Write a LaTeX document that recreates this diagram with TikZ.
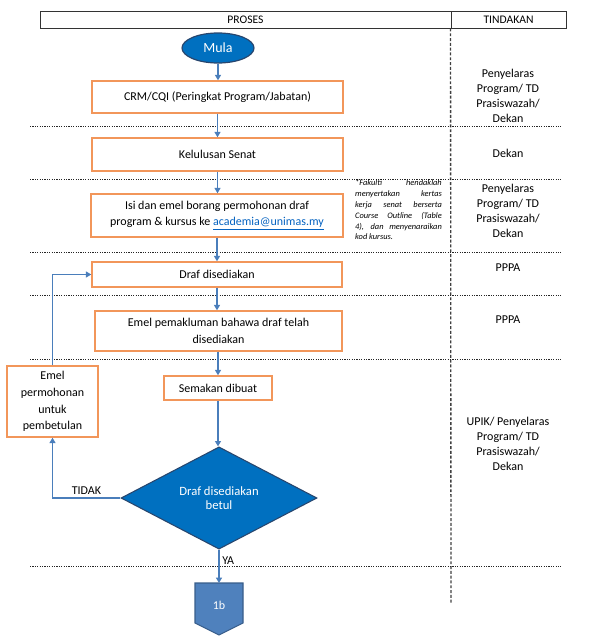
\documentclass[tikz,border=0pt]{standalone}
\usepackage{fontspec}
\setmainfont{Carlito}
\usetikzlibrary{shapes.geometric,arrows.meta,calc}
\definecolor{arrowblue}{RGB}{74,126,187}
\definecolor{boxorange}{RGB}{242,150,90}
\definecolor{darkfill}{RGB}{0,112,192}
\definecolor{darkedge}{RGB}{40,70,110}
\definecolor{connfill}{RGB}{79,129,189}
\definecolor{connedge}{RGB}{56,93,138}
\definecolor{linkblue}{RGB}{5,99,193}
\begin{document}
\begin{tikzpicture}[x=0.75pt,y=-0.75pt,
  proc/.style={draw=boxorange, line width=1.1pt, fill=white, align=center, inner sep=0pt, font=\fontsize{9}{12.5}\selectfont},
  flow/.style={draw=arrowblue, line width=0.9pt, -{Triangle[width=4.5pt,length=4pt]}},
  sepline/.style={dash pattern=on 0.9pt off 0.9pt, line width=0.7pt, black!85},
  act/.style={align=center, inner sep=0pt, font=\fontsize{9}{11.3}\selectfont},
  hdr/.style={draw=black!80, line width=0.7pt, inner sep=0pt, font=\fontsize{8.7}{10}\selectfont},
  lbl/.style={font=\fontsize{9}{11}\selectfont, inner sep=2pt},
]
\useasboundingbox (0,0) rectangle (602,643);

% header
\node[hdr, minimum width=411*0.75pt, minimum height=17*0.75pt] (proses) at (245.5,19.5) {PROSES};
\node[hdr, minimum width=115*0.75pt, minimum height=17*0.75pt] (tind) at (508.5,19.5) {TINDAKAN};

% column divider
\coordinate (dvend) at (451,603);
\draw[black!75, line width=1pt, dash pattern=on 2.2pt off 1.4pt] (tind.south west) -- (dvend);

% row separators
\foreach \yy in {126,179,252,295,359,566} {
  \draw[sepline] (30,\yy) -- (561,\yy);
}

% start
\node[ellipse, draw=darkedge, fill=darkfill, line width=0.9pt, minimum width=72*0.75pt, minimum height=30*0.75pt, inner sep=0pt, text=white, font=\fontsize{10.5}{12}\selectfont] (mula) at (218,48) {Mula};

% process boxes
\node[proc, minimum width=251*0.75pt, minimum height=32*0.75pt] (crm) at (217.5,97) {CRM/CQI (Peringkat Program/Jabatan)};
\node[proc, minimum width=251*0.75pt, minimum height=33*0.75pt] (kel) at (217.5,154.5) {Kelulusan Senat};
\node[proc, minimum width=252*0.75pt, minimum height=43*0.75pt] (isi) at (217,215.5) {Isi dan emel borang permohonan draf\\program \& kursus ke \textcolor{linkblue}{\underline{academia@unimas.my}}};
\node[proc, minimum width=250*0.75pt, minimum height=25*0.75pt] (draf) at (217,274.5) {Draf disediakan};
\node[proc, minimum width=247*0.75pt, minimum height=40*0.75pt] (emel) at (218.5,331) {Emel pemakluman bahawa draf telah\\disediakan};
\node[proc, minimum width=108*0.75pt, minimum height=24*0.75pt] (sem) at (218,388) {Semakan dibuat};
\node[proc, minimum width=91*0.75pt, minimum height=71*0.75pt] (left) at (52.5,401.5) {Emel\\permohonan\\untuk\\pembetulan};

% decision
\node[diamond, draw=darkedge, fill=darkfill, line width=0.8pt, minimum width=196*0.75pt, minimum height=76*0.75pt, inner sep=0pt, text=white, align=center, font=\fontsize{9.5}{10.5}\selectfont] (dec) at (219,498) {Draf disediakan\\betul};

% off-page connector
\draw[draw=connedge, fill=connfill, line width=0.8pt] (195,583) -- (243,583) -- (243,623) -- (219,635) -- (195,623) -- cycle;
\coordinate (obtop) at (219,583);
\node[text=white, font=\fontsize{9}{11}\selectfont] (ob) at (219,605) {1b};

% note
\node[font=\fontsize{6.3}{8.1}\selectfont\itshape, align=left, inner sep=0pt] (note) at (398.5,210) {%
\makebox[65pt][s]{*Fakulti hendaklah}\\
\makebox[65pt][s]{menyertakan kertas}\\
\makebox[65pt][s]{kerja senat berserta}\\
\makebox[65pt][s]{Course Outline (Table}\\
\makebox[65pt][s]{4), dan menyenaraikan}\\
\makebox[65pt][l]{kod kursus.}};

% actions
\node[act] (t1) at (508,95.5) {Penyelaras\\Program/ TD\\Prasiswazah/\\Dekan};
\node[act] (t2) at (508,153) {Dekan};
\node[act] (t3) at (508,210.5) {Penyelaras\\Program/ TD\\Prasiswazah/\\Dekan};
\node[act] (t4) at (508,268) {PPPA};
\node[act] (t5) at (508,320) {PPPA};
\node[act] (t6) at (508,443.5) {UPIK/ Penyelaras\\Program/ TD\\Prasiswazah/\\Dekan};

% connectors
\draw[flow] (mula.south) -- (mula.south |- crm.north);
\draw[flow] (crm.south) -- (kel.north);
\draw[flow] (kel.south) -- (kel.south |- isi.north);
\draw[flow] (isi.south) -- (draf.north);
\draw[flow] (draf.south) -- (draf.south |- emel.north);
\draw[flow] (emel.south -| sem.north) -- (sem.north);
\draw[flow] (sem.south) -- (sem.south |- dec.north);
\draw[flow] (dec.west) -| (left.south) node[lbl, pos=0.25, above] {TIDAK};
\draw[flow] (left.north) |- (draf.west);
\draw[flow] (dec.south) -- (obtop) node[lbl, pos=0.34, right] {YA};
\end{tikzpicture}
\end{document}
